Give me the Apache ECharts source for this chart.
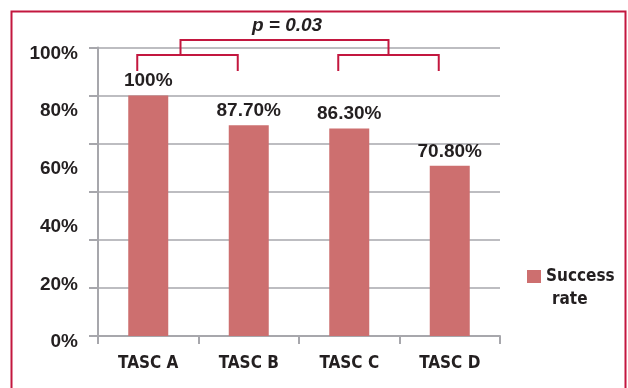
<!DOCTYPE html>
<html>
<head>
<meta charset="utf-8">
<script src="https://cdn.jsdelivr.net/npm/echarts@6/dist/echarts.min.js"></script>
<style>
  html, body { margin: 0; padding: 0; background: #ffffff; }
  #chart { width: 628px; height: 388px; }
</style>
</head>
<body>
<div id="chart"></div>
<script>
// Success rate per TASC grade
const categories = ['TASC A', 'TASC B', 'TASC C', 'TASC D'];
const successRate = [100, 87.7, 86.3, 70.8];
const seriesName = 'Success rate';
// Percent scale printed down the left side
const scaleLabels = [0, 20, 40, 60, 80, 100];
// Comparison bracket: pairs of grades and the p-value above them
const bracketPairs = [['TASC A', 'TASC B'], ['TASC C', 'TASC D']];
const pValueText = 'p = 0.03';

const INK = '#231f20';
const GRID_GRAY = '#a7a7ac';
const BAR_RED = '#cd6f6f';
const CRIMSON = '#c3173f';
const NARROW = "'Liberation Sans Narrow', 'DejaVu Sans Condensed', 'Arial Narrow', sans-serif";
const SANS = "'Liberation Sans', Arial, Helvetica, sans-serif";

const chart = echarts.init(document.getElementById('chart'), null, { renderer: 'canvas' });

const fmtPct = v => (v === 100 ? '100%' : v.toFixed(2) + '%');

const option = {
  animation: false,
  backgroundColor: '#ffffff',
  grid: { left: 98, right: 128, top: 47.5, bottom: 52, containLabel: false },
  xAxis: {
    type: 'category',
    data: categories,
    axisLine: { lineStyle: { color: GRID_GRAY, width: 2 } },
    axisTick: { show: true, length: 8, lineStyle: { color: GRID_GRAY, width: 2 } },
    axisLabel: {
      margin: 19,
      color: INK,
      fontFamily: NARROW,
      fontWeight: 'bold',
      fontSize: 17
    }
  },
  yAxis: [
    {
      // value scale for the bars, with its gridlines
      type: 'value',
      min: 0,
      max: 120,
      interval: 20,
      axisLine: { show: true, lineStyle: { color: GRID_GRAY, width: 2 } },
      axisTick: { show: true, length: 9, lineStyle: { color: GRID_GRAY, width: 2 } },
      splitLine: { show: true, lineStyle: { color: GRID_GRAY, width: 1.5 } },
      axisLabel: { show: false }
    },
    {
      // percent labels down the left side
      type: 'value',
      position: 'left',
      min: scaleLabels[0],
      max: scaleLabels[scaleLabels.length - 1],
      interval: scaleLabels[1] - scaleLabels[0],
      axisLine: { show: false },
      axisTick: { show: false },
      splitLine: { show: false },
      axisLabel: {
        margin: 20,
        verticalAlign: 'top',
        lineHeight: 12,
        color: INK,
        fontFamily: SANS,
        fontWeight: 'bold',
        fontSize: 19,
        formatter: v => v + '%'
      }
    }
  ],
  legend: {
    left: 527,
    top: 268,
    padding: 0,
    orient: 'vertical',
    itemWidth: 14,
    itemHeight: 13,
    icon: 'rect',
    data: [seriesName],
    formatter: () => '{a|Success}\n{b|rate}',
    textStyle: {
      color: INK,
      fontFamily: NARROW,
      fontWeight: 'bold',
      fontSize: 17,
      padding: [23, 0, 0, 0],
      rich: {
        a: { fontFamily: NARROW, fontWeight: 'bold', fontSize: 17, lineHeight: 23, color: INK },
        b: { fontFamily: NARROW, fontWeight: 'bold', fontSize: 17, lineHeight: 23, color: INK, padding: [0, 0, 0, 6] }
      }
    }
  },
  series: [
    {
      name: seriesName,
      type: 'bar',
      yAxisIndex: 0,
      data: successRate,
      barWidth: 40,
      itemStyle: { color: BAR_RED },
      label: {
        show: true,
        position: 'top',
        distance: 5,
        color: INK,
        fontFamily: SANS,
        fontWeight: 'bold',
        fontSize: 19,
        formatter: p => fmtPct(p.value)
      }
    }
  ]
};

chart.setOption(option);

// Frame and comparison bracket, placed from the category axis
function drawOverlay() {
  const xOf = c => chart.convertToPixel({ xAxisIndex: 0 }, c);
  const yTop = 40, yArm = 55, yFoot = 71;
  const els = [
    {
      type: 'rect',
      shape: { x: 11.5, y: 11.5, width: 614, height: 420 },
      style: { fill: 'none', stroke: CRIMSON, lineWidth: 2 },
      silent: true
    }
  ];
  const joins = [];
  bracketPairs.forEach((pair, i) => {
    const x0 = xOf(pair[0]) - 11;
    const x1 = xOf(pair[1]) - 11;
    const mid = (x0 + x1) / 2 - (i === 0 ? 7 : 0);
    joins.push(mid);
    els.push({
      type: 'polyline',
      shape: { points: [[x0, yFoot], [x0, yArm], [x1, yArm], [x1, yFoot]] },
      style: { fill: 'none', stroke: CRIMSON, lineWidth: 2 },
      silent: true
    });
  });
  els.push({
    type: 'polyline',
    shape: { points: [[joins[0], yArm], [joins[0], yTop], [joins[1], yTop], [joins[1], yArm]] },
    style: { fill: 'none', stroke: CRIMSON, lineWidth: 2 },
    silent: true
  });
  els.push({
    type: 'text',
    x: 287,
    y: 26,
    style: {
      text: pValueText,
      fill: INK,
      font: "italic bold 19px 'Liberation Sans', Arial, sans-serif",
      align: 'center',
      verticalAlign: 'middle'
    },
    silent: true
  });
  chart.setOption({ graphic: els });
}
drawOverlay();
</script>
</body>
</html>
